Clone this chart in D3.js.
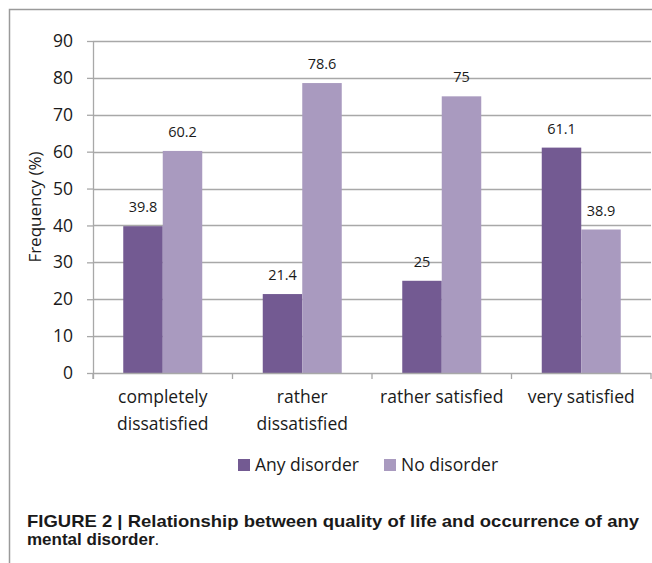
<!DOCTYPE html>
<html>
<head>
<meta charset="utf-8">
<script src="https://cdn.jsdelivr.net/npm/d3@7"></script>
<style>
  body { margin: 0; background: #fff; }
  svg { display: block; }
  .axis text { font-family: "Open Sans", sans-serif; fill: #1a1a1a; }
</style>
</head>
<body>
<div id="chart"></div>
<script>
// data
const categories = ['completely dissatisfied', 'rather dissatisfied', 'rather satisfied', 'very satisfied'];
const catLines = [['completely', 'dissatisfied'], ['rather', 'dissatisfied'], ['rather satisfied'], ['very satisfied']];
const seriesNames = ['Any disorder', 'No disorder'];
const anyDisorder = [39.8, 21.4, 25, 61.1];
const noDisorder = [60.2, 78.6, 75, 38.9];
const yTicks = [0, 10, 20, 30, 40, 50, 60, 70, 80, 90];
const colors = ['#735a92', '#a99abf'];

const W = 652, H = 563;
const margin = {top: 41, right: 1, bottom: 190, left: 93};
const w = W - margin.left - margin.right;
const h = H - margin.top - margin.bottom;

let svg = d3.select('#chart')
  .append('svg')
    .attr('width', W)
    .attr('height', H);

// frame (right and bottom are cropped off in the original)
svg.append('path')
  .attr('d', `M9.5,${H} V9.5 H${W}`)
  .attr('fill', 'none')
  .attr('stroke', '#9a9a9a')
  .attr('stroke-width', 1.5);

let chart = svg.append('g')
  .attr('transform', `translate(${margin.left}, ${margin.top})`);

let x0 = d3.scaleBand()
  .domain(categories)
  .range([0, w])
  .paddingInner(0)
  .paddingOuter(0);

let x1 = d3.scaleBand()
  .domain(seriesNames)
  .range([0, x0.bandwidth()])
  .paddingOuter(0.766)
  .paddingInner(0);

let y = d3.scaleLinear()
  .domain([0, 90])
  .range([h, 0]);

// gridlines
chart.append('g')
  .selectAll('line')
  .data(yTicks.filter(d => d > 0))
  .enter()
  .append('line')
    .attr('x1', 0)
    .attr('x2', w)
    .attr('y1', d => Math.round(y(d)) + 0.5)
    .attr('y2', d => Math.round(y(d)) + 0.5)
    .attr('stroke', '#a8a8a8')
    .attr('stroke-width', 1.3);

// bars
const rows = categories.map((c, i) => ({cat: c, vals: [anyDisorder[i], noDisorder[i]]}));
let groups = chart.selectAll('.grp')
  .data(rows)
  .enter()
  .append('g')
    .attr('class', 'grp')
    .attr('transform', d => `translate(${x0(d.cat)}, 0)`);

groups.selectAll('rect')
  .data(d => d.vals.map((v, j) => ({s: seriesNames[j], v: v, j: j})))
  .enter()
  .append('rect')
    .attr('x', d => x1(d.s))
    .attr('width', x1.bandwidth())
    .attr('y', d => y(d.v))
    .attr('height', d => h - y(d.v))
    .attr('fill', d => colors[d.j]);

groups.selectAll('.lbl')
  .data(d => d.vals.map((v, j) => ({s: seriesNames[j], v: v})))
  .enter()
  .append('text')
    .attr('class', 'lbl')
    .attr('x', d => x1(d.s) + x1.bandwidth() / 2)
    .attr('y', d => y(d.v) - 14)
    .attr('text-anchor', 'middle')
    .style('font-family', '"Open Sans", sans-serif')
    .style('font-size', '14.5px')
    .style('fill', '#1a1a1a')
    .text(d => d.v);

// y axis
let yAxis = d3.axisLeft(y).tickValues(yTicks).tickSize(6).tickPadding(14);
let yAxisCont = chart.append('g').attr('class', 'axis').call(yAxis);
yAxisCont.selectAll('text').style('font-size', '17.5px');
yAxisCont.select('.domain').remove();
yAxisCont.selectAll('.tick line').attr('stroke', '#a8a8a8').attr('stroke-width', 1.3);
chart.append('line')
  .attr('x1', 0.5).attr('x2', 0.5)
  .attr('y1', 0).attr('y2', h + 6)
  .attr('stroke', '#a8a8a8')
  .attr('stroke-width', 1.3);

// x axis
let xAxisCont = chart.append('g')
  .attr('class', 'axis')
  .attr('transform', `translate(0, ${h})`);
xAxisCont.append('line')
  .attr('x1', 0).attr('x2', w)
  .attr('y1', 0.5).attr('y2', 0.5)
  .attr('stroke', '#a8a8a8')
  .attr('stroke-width', 1.3);
xAxisCont.selectAll('.ctick')
  .data(categories.map(c => x0(c)).concat([w]))
  .enter()
  .append('line')
    .attr('class', 'ctick')
    .attr('x1', d => d).attr('x2', d => d)
    .attr('y1', 0).attr('y2', 6)
    .attr('stroke', '#a8a8a8')
    .attr('stroke-width', 1.3);
xAxisCont.selectAll('.clbl')
  .data(categories)
  .enter()
  .append('text')
    .attr('class', 'clbl')
    .attr('x', d => x0(d) + x0.bandwidth() / 2)
    .attr('y', 30)
    .attr('text-anchor', 'middle')
    .style('font-size', '17.5px')
    .each(function(d, i) {
      d3.select(this).selectAll('tspan')
        .data(catLines[i])
        .enter()
        .append('tspan')
          .attr('x', x0(d) + x0.bandwidth() / 2)
          .attr('dy', (t, k) => k === 0 ? 0 : 27)
          .text(t => t);
    });

// y title
svg.append('text')
  .attr('class', 'axis')
  .attr('transform', `translate(41, ${margin.top + h / 2}) rotate(-90)`)
  .attr('text-anchor', 'middle')
  .style('font-family', '"Open Sans", sans-serif')
  .style('font-size', '17px')
  .style('fill', '#1a1a1a')
  .text('Frequency (%)');

// legend
let legend = svg.append('g').attr('transform', 'translate(238, 459)');
const legX = [0, 146];
seriesNames.forEach((s, i) => {
  let g = legend.append('g').attr('transform', `translate(${legX[i]}, 0)`);
  g.append('rect').attr('width', 12).attr('height', 12).attr('fill', colors[i]);
  g.append('text')
    .attr('x', 17).attr('y', 12)
    .style('font-family', '"Open Sans", sans-serif')
    .style('font-size', '17.5px')
    .style('fill', '#1a1a1a')
    .text(s);
});

// caption
let cap = svg.append('text')
  .style('font-family', '"Liberation Sans", Arial, sans-serif')
  .style('font-size', '17px')
  .style('fill', '#1a1a1a');
cap.append('tspan')
  .attr('x', 27).attr('y', 527)
  .attr('textLength', 612)
  .attr('lengthAdjust', 'spacingAndGlyphs')
  .style('font-weight', 'bold')
  .text('FIGURE 2 | Relationship between quality of life and occurrence of any');
let l2 = cap.append('tspan').attr('x', 27).attr('y', 545);
l2.append('tspan').style('font-weight', 'bold').text('mental disorder');
l2.append('tspan').text('.');
</script>
</body>
</html>
